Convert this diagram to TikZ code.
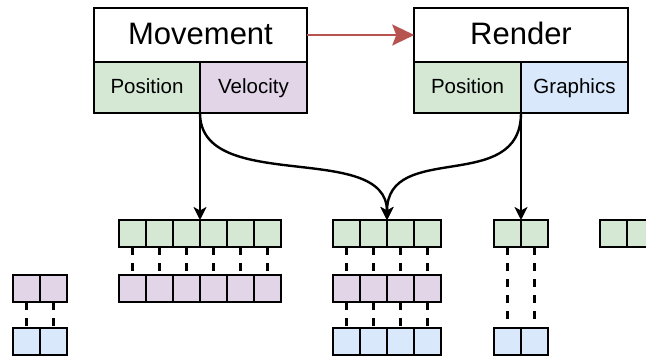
\documentclass[tikz,border=0pt]{standalone}
\usepackage{fontspec}
\setmainfont{Liberation Sans}
\usepackage{xcolor}
\usepackage{tikz}
\usetikzlibrary{arrows.meta}

\definecolor{posgreen}{HTML}{D5E8D4}
\definecolor{velpurple}{HTML}{E1D5E7}
\definecolor{gfxblue}{HTML}{DAE8FC}
\definecolor{flowred}{HTML}{B85450}

\tikzset{
    sysbox/.style={draw, line width=2.4pt, fill=white, minimum width=213.5pt, minimum height=54pt, inner sep=0pt, outer sep=0pt, text height=24pt, text depth=4pt, font=\fontsize{31}{36}\selectfont},
    compbox/.style={draw, line width=2.4pt, minimum width=107pt, minimum height=51pt, inner sep=0pt, outer sep=0pt, text height=15.5pt, text depth=3pt, font=\fontsize{20.5}{24}\selectfont},
    cell/.style={draw, line width=2.6pt, minimum size=27pt, inner sep=0pt, outer sep=0pt},
    link/.style={line width=2.6pt, dash pattern=on 8pt off 8pt},
    feed/.style={line width=2.4pt, -{Stealth[length=13pt, width=13pt, inset=3.5pt]}},
}

\begin{document}
\begin{tikzpicture}[x=1pt, y=-1pt]
            \useasboundingbox (0, 0) rectangle (646, 356);
            % systems
            \node (mov) at (200.5, 35) [sysbox] {Movement};
            \node (movpos) at (147, 87.5) [compbox, fill=posgreen, minimum width=106pt] {Position};
            \node (movvel) at (253.5, 87.5) [compbox, fill=velpurple] {Velocity};
            \node (ren) at (521, 35) [sysbox] {Render};
            \node (renpos) at (467.5, 87.5) [compbox, fill=posgreen] {Position};
            \node (rengfx) at (574.5, 87.5) [compbox, fill=gfxblue] {Graphics};
            \draw [line width=2.4pt, flowred, -{Stealth[length=22pt, width=21pt, inset=4pt]}] (mov) edge (ren);
            % component arrays
            \foreach \i in {0,...,5} {
                \node (mpos\i) at (132.5+27*\i, 233.5) [cell, fill=posgreen] {};
                \node (mvel\i) at (132.5+27*\i, 288.5) [cell, fill=velpurple] {};
                \draw [link] (mpos\i) edge (mvel\i);
            }
            \foreach \i in {0,...,3} {
                \node (cpos\i) at (346.5+27*\i, 233.5) [cell, fill=posgreen] {};
                \node (cvel\i) at (346.5+27*\i, 288.5) [cell, fill=velpurple] {};
                \node (cgfx\i) at (346.5+27*\i, 341.5) [cell, fill=gfxblue] {};
                \draw [link] (cpos\i) edge (cvel\i);
                \draw [link] (cvel\i) edge (cgfx\i);
            }
            \foreach \i in {0,1} {
                \node (rpos\i) at (507.5+27*\i, 233.5) [cell, fill=posgreen] {};
                \node (rgfx\i) at (507.5+27*\i, 341.5) [cell, fill=gfxblue] {};
                \draw [link] (rpos\i) edge (rgfx\i);
                \node (xpos\i) at (613.5+27*\i, 233.5) [cell, fill=posgreen] {};
                \node (lvel\i) at (26.5+27*\i, 288.5) [cell, fill=velpurple] {};
                \node (lgfx\i) at (26.5+27*\i, 341.5) [cell, fill=gfxblue] {};
                \draw [link] (lvel\i) edge (lgfx\i);
            }
            % queries
            \draw [feed] (movvel.south west) -- (mpos2.north east);
            \draw [feed] (movvel.south west) .. controls +(0, 82) and +(0, -80) .. (cpos1.north east);
            \draw [feed] (rengfx.south west) .. controls +(0, 82) and +(0, -80) .. (cpos1.north east);
            \draw [feed] (rengfx.south west) -- (rpos0.north east);
        \end{tikzpicture}
\end{document}
